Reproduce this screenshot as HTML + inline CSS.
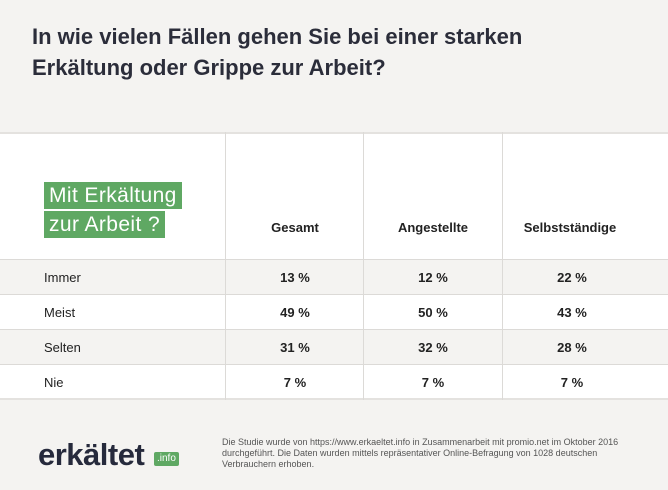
<!DOCTYPE html>
<html><head><meta charset="utf-8"><style>
body{margin:0;width:668px;height:490px;background:#f4f3f1;font-family:"Liberation Sans",sans-serif;position:relative;overflow:hidden}
.t{position:absolute;left:32px;top:21px;font-size:22px;font-weight:bold;color:#2b2d3a;line-height:31px}
.tab{position:absolute;left:0;top:132px;width:668px;height:268px;background:#fff;border-top:2px solid #e4e2df;border-bottom:2px solid #e4e2df;box-sizing:border-box}
.v{position:absolute;top:132px;width:1px;height:268px;background:#dcdad7}
.r{position:absolute;left:0;width:668px;height:35px;border-top:1px solid #dcdad7;box-sizing:border-box}
.g{background:#f4f3f1}
.c{position:absolute;font-size:13px;color:#222;transform:translateX(-50%);white-space:nowrap}
.b{font-weight:bold}
.lab{position:absolute;left:44px;background:#5fa863;color:#fff;font-size:21px;letter-spacing:0.4px;line-height:27px;padding:0 5px}
.f{position:absolute;left:222px;top:437px;font-size:9px;color:#555;line-height:11px;width:420px}
</style></head><body>
<div class="t">In wie vielen Fällen gehen Sie bei einer starken<br>Erkältung oder Grippe zur Arbeit?</div>
<div class="tab"></div>
<div class="r g" style="top:259px"></div>
<div class="r" style="top:294px"></div>
<div class="r g" style="top:329px"></div>
<div class="r" style="top:364px"></div>
<div class="v" style="left:225px"></div><div class="v" style="left:363px"></div><div class="v" style="left:502px"></div>
<div class="lab" style="top:182px">Mit Erkältung</div>
<div class="lab" style="top:211px">zur Arbeit ?</div>
<div class="c b" style="left:295px;top:220px">Gesamt</div>
<div class="c b" style="left:433px;top:220px">Angestellte</div>
<div class="c b" style="left:570px;top:220px">Selbstständige</div>
<div class="c" style="left:44px;top:270px;transform:none">Immer</div>
<div class="c" style="left:44px;top:305px;transform:none">Meist</div>
<div class="c" style="left:44px;top:340px;transform:none">Selten</div>
<div class="c" style="left:44px;top:375px;transform:none">Nie</div>
<div class="c b" style="left:295px;top:270px">13 %</div><div class="c b" style="left:433px;top:270px">12 %</div><div class="c b" style="left:572px;top:270px">22 %</div>
<div class="c b" style="left:295px;top:305px">49 %</div><div class="c b" style="left:433px;top:305px">50 %</div><div class="c b" style="left:572px;top:305px">43 %</div>
<div class="c b" style="left:295px;top:340px">31 %</div><div class="c b" style="left:433px;top:340px">32 %</div><div class="c b" style="left:572px;top:340px">28 %</div>
<div class="c b" style="left:295px;top:375px">7 %</div><div class="c b" style="left:433px;top:375px">7 %</div><div class="c b" style="left:572px;top:375px">7 %</div>
<div style="position:absolute;left:38px;top:437px;font-size:31px;font-weight:bold;color:#262a3c;letter-spacing:-0.5px">erkältet</div>
<div style="position:absolute;left:154px;top:452px;background:#5fa863;color:#fff;font-size:10px;padding:0 3px;line-height:14px;border-radius:2px">.info</div>
<div class="f">Die Studie wurde von https://www.erkaeltet.info in Zusammenarbeit mit promio.net im Oktober 2016 durchgeführt. Die Daten wurden mittels repräsentativer Online-Befragung von 1028 deutschen Verbrauchern erhoben.</div>
</body></html>
